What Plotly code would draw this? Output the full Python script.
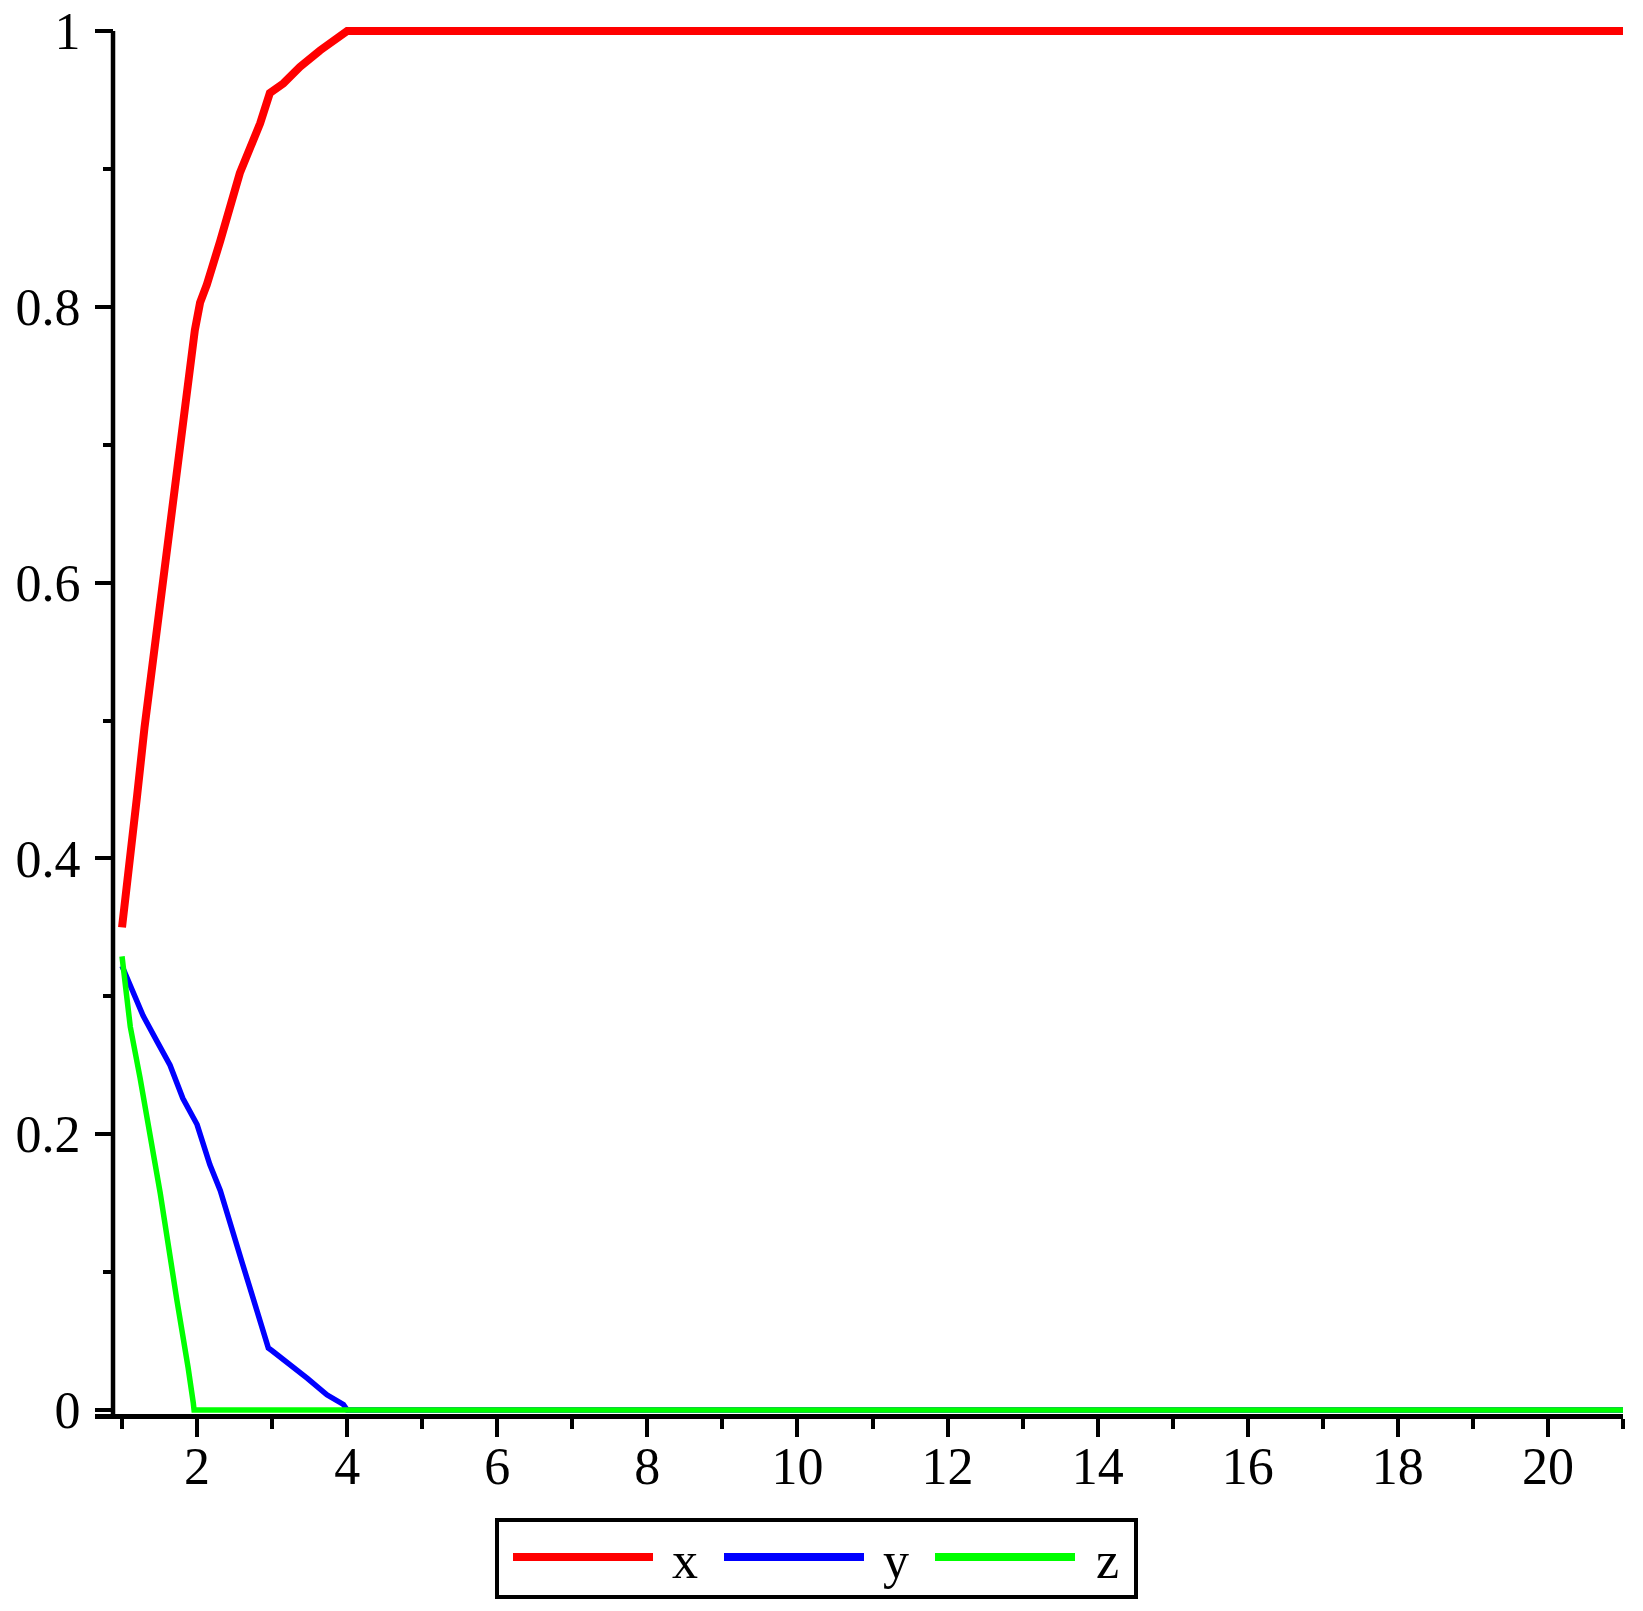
import plotly.graph_objects as go

# curve readings
t_x = [1.0, 1.1, 1.2, 1.3, 1.4, 1.5, 1.6, 1.7, 1.8, 1.9, 1.97, 2.04, 2.13, 2.31, 2.57, 2.84, 2.97, 3.15, 3.37, 3.64, 3.95, 4.0, 21]
x_vals = [0.350, 0.404, 0.445, 0.495, 0.538, 0.577, 0.623, 0.667, 0.708, 0.755, 0.783, 0.803, 0.816, 0.848, 0.897, 0.933, 0.955, 0.962, 0.974, 0.986, 0.999, 1.0, 1.0]

t_y = [1.0, 1.09, 1.28, 1.47, 1.64, 1.81, 2.0, 2.17, 2.31, 2.6, 2.81, 2.95, 3.0, 3.24, 3.47, 3.73, 3.95, 4.0, 21]
y_vals = [0.322, 0.311, 0.286, 0.267, 0.250, 0.226, 0.207, 0.178, 0.159, 0.107, 0.070, 0.045, 0.043, 0.033, 0.023, 0.011, 0.004, 0.0, 0.0]

t_z = [1.0, 1.11, 1.24, 1.37, 1.51, 1.73, 1.81, 1.88, 1.95, 1.96, 21]
z_vals = [0.329, 0.278, 0.241, 0.201, 0.157, 0.080, 0.056, 0.031, 0.005, 0.0, 0.0]

names = ["x", "y", "z"]
colors = ["#ff0000", "#0000ff", "#00ff00"]

# body margin is zeroed in post_script, so figure px == page px
W, H = 1643, 1611
ML, MR, MT, MB = 95, 20, 24, 197
FONT = dict(family="Liberation Serif", size=52, color="black")


def px(xp):
    # page pixel -> paper fraction
    return (xp - ML) / (W - ML - MR)


def py(yp):
    return (H - MB - yp) / (H - MT - MB)


fig = go.Figure()
fig.add_trace(go.Scatter(x=t_x, y=x_vals, mode="lines", name="x",
                         line=dict(color=colors[0], width=8)))
fig.add_trace(go.Scatter(x=t_y, y=y_vals, mode="lines", name="y",
                         line=dict(color=colors[1], width=5.5)))
fig.add_trace(go.Scatter(x=t_z, y=z_vals, mode="lines", name="z",
                         line=dict(color=colors[2], width=5.5)))

x_lo, x_hi = 0.64, 21
y_axis_at = 0.88

fig.update_layout(
    width=W, height=H,
    margin=dict(l=ML, r=MR, t=MT, b=MB),
    paper_bgcolor="white", plot_bgcolor="white",
    showlegend=False,
    font=FONT,
    xaxis=dict(range=[x_lo, x_hi], showgrid=False, zeroline=False, automargin=False,
               showline=True, linecolor="black", linewidth=4.5,
               ticks="outside", ticklen=18, tickwidth=4, tickcolor="black",
               tickmode="linear", tick0=0, dtick=2,
               minor=dict(ticks="outside", ticklen=10, tickwidth=4, tickcolor="black",
                          tick0=1, dtick=1),
               tickfont=FONT, ticklabelstandoff=-15),
    yaxis=dict(range=[-0.0029, 1.0051], showgrid=False, zeroline=False, automargin=False,
               showline=False, anchor="free",
               position=(y_axis_at - x_lo) / (x_hi - x_lo),
               ticks="outside", ticklen=18, tickwidth=4, tickcolor="black",
               tickmode="linear", tick0=0, dtick=0.2,
               minor=dict(ticks="outside", ticklen=10, tickwidth=4, tickcolor="black",
                          tick0=0, dtick=0.1),
               tickfont=FONT, ticklabelstandoff=4, ticklabeloverflow="allow"),
)

# y axis line, only up to 1
fig.add_shape(type="line", xref="x", yref="y", x0=y_axis_at, x1=y_axis_at,
              y0=-0.0029, y1=1.0, line=dict(color="black", width=4.5))

# legend box drawn by hand (long sample lines)
fig.add_shape(type="rect", xref="paper", yref="paper",
              x0=px(497), x1=px(1136), y0=py(1597), y1=py(1520),
              line=dict(color="black", width=4), fillcolor="white")
starts = [513, 724, 935]
for i, s in enumerate(starts):
    fig.add_shape(type="line", xref="paper", yref="paper",
                  x0=px(s), x1=px(s + 140), y0=py(1557), y1=py(1557),
                  line=dict(color=colors[i], width=8))
    fig.add_annotation(x=px(s + 172), y=py(1560), xref="paper", yref="paper",
                       text=names[i], showarrow=False, font=FONT,
                       xanchor="center", yanchor="middle")

fig.write_html("out.html", config={"displayModeBar": False},
               post_script="document.body.style.margin='0';")
